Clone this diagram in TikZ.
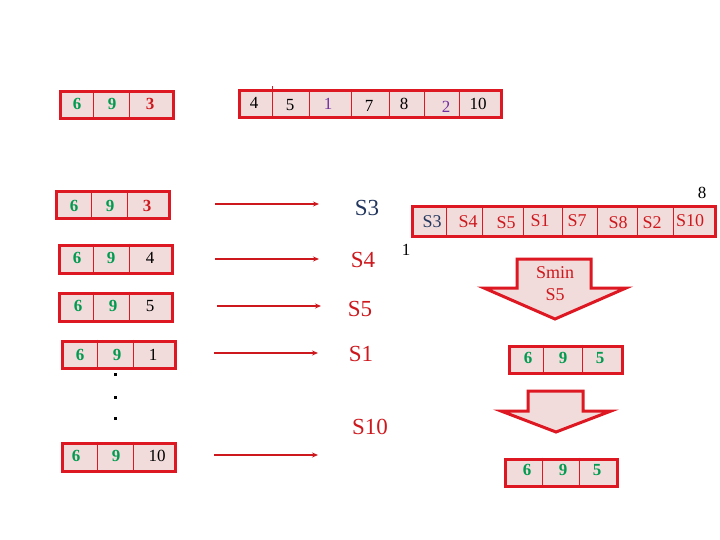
\documentclass[tikz,border=0pt]{standalone}
\usepackage{fontspec}
\setmainfont{Liberation Serif}
\definecolor{cellpink}{RGB}{242,220,219}
\definecolor{boxred}{RGB}{222,24,34}
\definecolor{numgreen}{RGB}{0,155,80}
\definecolor{labred}{RGB}{205,25,30}
\definecolor{sdark}{RGB}{35,55,95}
\definecolor{numpurple}{RGB}{112,48,160}
\tikzset{
  outerbox/.style={draw=boxred, line width=3pt, fill=cellpink, inner sep=0pt, anchor=north west},
  divider/.style={draw=boxred, line width=0.8pt},
  num/.style={inner sep=0pt, text height=11.4pt, text depth=0pt, font=\fontsize{17}{17}\selectfont},
  gnum/.style={num, font=\fontsize{17}{17}\selectfont\bfseries, text=numgreen},
  rnum/.style={num, font=\fontsize{17}{17}\selectfont\bfseries, text=labred},
  pnum/.style={num, text=numpurple},
  slab/.style={inner sep=0pt, text height=15.5pt, text depth=0pt, font=\fontsize{23}{23}\selectfont, text=labred},
  alab/.style={inner sep=0pt, text height=12pt, text depth=0pt, font=\fontsize{18}{18}\selectfont, text=labred},
  conn/.style={draw=labred, line width=1.3pt, -{Stealth[length=6pt,width=5pt]}},
  blockarrow/.style={draw=boxred, line width=3pt, fill=cellpink, line join=miter},
  dotmark/.style={fill=black, minimum size=3pt, inner sep=0pt, draw=none, rectangle}
}
\usetikzlibrary{arrows.meta}
\begin{document}
\begin{tikzpicture}[x=1pt,y=-1pt]
\useasboundingbox (0,0) rectangle (720,540);

% ---- top-left box
\node[outerbox, minimum width=113pt, minimum height=27pt] (tl) at (58.5,90.5) {};
\draw[divider] (93,90.5) -- (93,117.5);
\draw[divider] (129,90.5) -- (129,117.5);
\node[gnum] (tl1) at (77,104) {6};
\node[gnum] (tl2) at (112,104) {9};
\node[rnum] (tl3) at (150,104) {3};

% ---- top array
\node[outerbox, minimum width=262pt, minimum height=27pt] (ta) at (237.5,89.5) {};
\foreach \xx in {272,309,351,389,424,459} \draw[divider] (\xx,89.5) -- (\xx,116.5);
\draw[divider] (272,89.5) -- (272,86);
\node[num] (t1) at (254,102.5) {4};
\node[num] (t2) at (290,105) {5};
\node[pnum] (t3) at (328,103.5) {1};
\node[num] (t4) at (369,106) {7};
\node[num] (t5) at (404,103.5) {8};
\node[pnum] (t6) at (446,107) {2};
\node[num] (t7) at (478,103.5) {10};

% ---- rows
\node[outerbox, minimum width=113pt, minimum height=27pt] (r1) at (54.5,190.5) {};
\draw[divider] (91,190.5) -- (91,217.5);
\draw[divider] (127,190.5) -- (127,217.5);
\node[gnum] (r1a) at (74,206) {6};
\node[gnum] (r1b) at (110,206) {9};
\node[rnum] (r1c) at (147,206) {3};

\node[outerbox, minimum width=113pt, minimum height=28pt] (r2) at (57.5,243.5) {};
\draw[divider] (93,243.5) -- (93,271.5);
\draw[divider] (129,243.5) -- (129,271.5);
\node[gnum] (r2a) at (77,258) {6};
\node[gnum] (r2b) at (111,258) {9};
\node[num] (r2c) at (150,258) {4};

\node[outerbox, minimum width=113pt, minimum height=28pt] (r3) at (57.5,291.5) {};
\draw[divider] (93,291.5) -- (93,319.5);
\draw[divider] (129,291.5) -- (129,319.5);
\node[gnum] (r3a) at (78,306) {6};
\node[gnum] (r3b) at (113,306) {9};
\node[num] (r3c) at (150,306) {5};

\node[outerbox, minimum width=113pt, minimum height=27pt] (r4) at (60.5,339.5) {};
\draw[divider] (97,339.5) -- (97,366.5);
\draw[divider] (133,339.5) -- (133,366.5);
\node[gnum] (r4a) at (80,355) {6};
\node[gnum] (r4b) at (117,355) {9};
\node[num] (r4c) at (153,355) {1};

\node[dotmark] (d1) at (115,374) {};
\node[dotmark] (d2) at (115,397) {};
\node[dotmark] (d3) at (115,418) {};

\node[outerbox, minimum width=113pt, minimum height=28pt] (r5) at (60.5,441.5) {};
\draw[divider] (97,441.5) -- (97,469.5);
\draw[divider] (133,441.5) -- (133,469.5);
\node[gnum] (r5a) at (76,456) {6};
\node[gnum] (r5b) at (116,456) {9};
\node[num] (r5c) at (157,456) {10};

% ---- arrows and labels
\coordinate (a1s) at (215,204); \coordinate (a1e) at (319,204);
\coordinate (a2s) at (215,259); \coordinate (a2e) at (319,259);
\coordinate (a3s) at (217,306); \coordinate (a3e) at (321,306);
\coordinate (a4s) at (214,353); \coordinate (a4e) at (318,353);
\coordinate (a5s) at (214,455); \coordinate (a5e) at (318,455);
\foreach \i in {1,...,5} \draw[conn] (a\i s) -- (a\i e);

\node[slab, text=sdark] (l1) at (367,208) {S3};
\node[slab] (l2) at (363,260) {S4};
\node[slab] (l3) at (360,309) {S5};
\node[slab] (l4) at (361,354) {S1};
\node[slab] (l5) at (370,427) {S10};

% ---- S array
\node[outerbox, minimum width=303pt, minimum height=29pt] (sa) at (410.5,205.5) {};
\foreach \xx in {446,482,523,562,597,637,673} \draw[divider] (\xx,205.5) -- (\xx,234.5);
\node[alab, text=sdark] (s1) at (432,222) {S3};
\node[alab] (s2) at (468,222) {S4};
\node[alab] (s3) at (506,223) {S5};
\node[alab] (s4) at (540,220) {S1};
\node[alab] (s5) at (577,220) {S7};
\node[alab] (s6) at (618,223) {S8};
\node[alab] (s7) at (652,223) {S2};
\node[alab] (s8) at (690,220) {S10};
\node[num] (top8) at (702,193) {8};
\node[num] (bot1) at (406,250) {1};

% ---- Smin block arrow
\draw[blockarrow] (517,259) -- (591,259) -- (591,288) -- (626,288) -- (555,319) -- (484,288) -- (517,288) -- cycle;
\node[alab] (smin) at (555,272) {Smin};
\node[alab] (smin5) at (555,294) {S5};

% ---- result box
\node[outerbox, minimum width=113pt, minimum height=27pt] (ra) at (507.5,344.5) {};
\draw[divider] (543,344.5) -- (543,371.5);
\draw[divider] (582,344.5) -- (582,371.5);
\node[gnum] (ra1) at (528,358) {6};
\node[gnum] (ra2) at (563,358) {9};
\node[gnum] (ra3) at (600,358) {5};

\draw[blockarrow] (528,391) -- (583,391) -- (583,411) -- (611,411) -- (556,432) -- (501,411) -- (528,411) -- cycle;

\node[outerbox, minimum width=112pt, minimum height=27pt] (rb) at (503.5,457.5) {};
\draw[divider] (542,457.5) -- (542,484.5);
\draw[divider] (579,457.5) -- (579,484.5);
\node[gnum] (rb1) at (527,470) {6};
\node[gnum] (rb2) at (563,470) {9};
\node[gnum] (rb3) at (597,470) {5};
\end{tikzpicture}
\end{document}
